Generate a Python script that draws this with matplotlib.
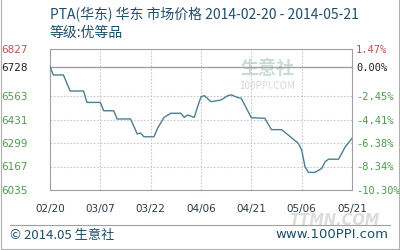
import matplotlib.pyplot as plt
import pandas as pd
from matplotlib.lines import Line2D

# Price data (day, price)
dates = ["2014-02-20", "2014-02-21", "2014-02-24", "2014-02-26", "2014-03-02",
         "2014-03-03", "2014-03-07", "2014-03-08", "2014-03-11", "2014-03-12",
         "2014-03-16", "2014-03-18", "2014-03-19", "2014-03-20", "2014-03-23",
         "2014-03-24", "2014-03-26", "2014-03-28", "2014-03-31", "2014-04-01",
         "2014-04-02", "2014-04-04", "2014-04-05", "2014-04-06", "2014-04-07",
         "2014-04-09", "2014-04-12", "2014-04-14", "2014-04-15", "2014-04-17",
         "2014-04-18", "2014-04-21", "2014-04-25", "2014-04-27", "2014-04-30",
         "2014-05-02", "2014-05-05", "2014-05-06", "2014-05-07", "2014-05-08",
         "2014-05-10", "2014-05-12", "2014-05-13", "2014-05-14", "2014-05-17",
         "2014-05-19", "2014-05-21"]
prices = [6728, 6681, 6681, 6591, 6591,
          6527, 6527, 6480, 6480, 6434,
          6434, 6350, 6355, 6334, 6334,
          6380, 6443, 6466, 6466, 6443,
          6456, 6443, 6503, 6559, 6565,
          6531, 6541, 6565, 6569, 6554,
          6550, 6441, 6438, 6374, 6374,
          6344, 6297, 6260, 6166, 6134,
          6134, 6157, 6194, 6208, 6208,
          6278, 6325]

base = 6728
levels = [6035, 6167, 6299, 6431, 6563, 6728, 6827]
xticks = ["2014-02-20", "2014-03-07", "2014-03-22", "2014-04-06",
          "2014-04-21", "2014-05-06", "2014-05-21"]

x = pd.to_datetime(dates)
xt = pd.to_datetime(xticks)

plt.rcParams['font.family'] = ['Noto Sans CJK SC', 'DejaVu Sans']

fig = plt.figure(figsize=(4, 2.5), dpi=100)
ax = fig.add_axes([0.125, 0.24, 0.755, 0.564])

ax.plot(x, prices, color='#4a8092', lw=1.0, zorder=3)
ax.axhline(base, color='#a0a0a0', lw=1.0, zorder=2)

ax.set_xlim(xt[0], xt[-1])
ax.set_ylim(levels[0], levels[-1])

# dotted grid
for d in xt[1:-1]:
    ax.axvline(d, color='#c8c8c8', lw=0.8, ls=(0, (1.5, 1.5)), zorder=1)
for v in levels[1:5]:
    ax.axhline(v, color='#c8c8c8', lw=0.8, ls=(0, (1.5, 1.5)), zorder=1)

for s in ax.spines.values():
    s.set_color('#a0a0a0')

ax.set_xticks(xt)
ax.set_xticklabels([d.strftime('%m/%d') for d in xt], fontsize=7.5,
                   color='#2a3a4a', family='DejaVu Sans')
ax.tick_params(axis='x', length=0, pad=10)

lcolors = ['#4e9a4e'] * 5 + ['#202020', '#c05050']
ax.set_yticks(levels)
ax.set_yticklabels([str(v) for v in levels], fontsize=7.5, family='DejaVu Sans')
for lab, c in zip(ax.get_yticklabels(), lcolors):
    lab.set_color(c)
ax.tick_params(axis='y', length=0, pad=16)

ax2 = ax.twinx()
ax2.set_ylim(ax.get_ylim())
ax2.set_yticks(levels)
ax2.set_yticklabels(["%.2f%%" % ((v / base - 1) * 100) for v in levels],
                    fontsize=7.5, family='DejaVu Sans Mono')
for lab, c in zip(ax2.get_yticklabels(), lcolors):
    lab.set_color(c)
ax2.tick_params(axis='y', length=0, pad=3)
for s in ax2.spines.values():
    s.set_visible(False)

# faint watermark in plot
ax.text(0.72, 0.86, "生意社", transform=ax.transAxes, fontsize=13,
        color='#c9dcd2', ha='center', va='center', weight='bold', zorder=0)
ax.text(0.72, 0.74, "100PPI.COM", transform=ax.transAxes, fontsize=7,
        color='#d8d8d8', ha='center', va='center', zorder=0)

# titles
fig.text(0.125, 0.94, "PTA(华东) 华东 市场价格 2014-02-20 - 2014-05-21",
         fontsize=10, color='#1f4f6a', va='center')
fig.text(0.125, 0.868, "等级:优等品", fontsize=10, color='#1f4f6a', va='center')

# footer
fig.add_artist(Line2D([0.025, 0.975], [0.1, 0.1], color='#a0a0a0', lw=0.8))
fig.text(0.835, 0.118, "TTMN.COM", fontsize=10.5, color='#dcdcdc',
         ha='center', va='center', weight='bold', style='italic',
         family='DejaVu Sans', zorder=0)
fig.text(0.025, 0.06, "© 2014.05 生意社", fontsize=9.5, color='#1f4f6a',
         va='center')
fig.text(0.97, 0.06, "www.100PPI.com", fontsize=9.5, color='#1f4f6a',
         va='center', ha='right', family='DejaVu Sans')

# outer border
fig.add_artist(Line2D([0.003, 0.003, 0.997, 0.997], [1, 0.004, 0.004, 1],
                      color='#b0b0b0', lw=0.8))

fig.savefig("out.png", dpi=100)
